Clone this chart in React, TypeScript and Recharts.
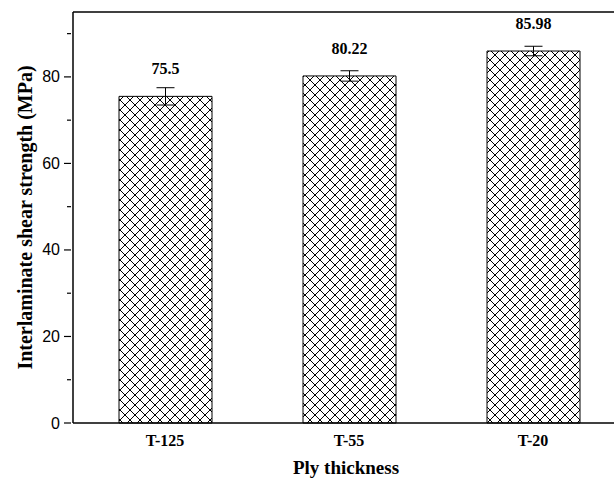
import React from 'react';
import { BarChart, Bar, XAxis, YAxis, ErrorBar, LabelList, ReferenceLine, Label } from 'recharts';

const categories = ['T-125', 'T-55', 'T-20'];
const strengths = [75.5, 80.22, 85.98];
const errors = [2.0, 1.2, 1.1];
const yTicks = [0, 10, 20, 30, 40, 50, 60, 70, 80, 90];

const data = categories.map((name, i) => ({ name, value: strengths[i], err: errors[i] }));

const SERIF = '"Liberation Serif", "Times New Roman", serif';
const SANS = '"Liberation Sans", Arial, sans-serif';

// left axis: long ticks + labels on 20s, short ticks in between
const YTick = (props: any) => {
  const { x, y, payload } = props;
  const major = payload.value % 20 === 0;
  return (
    <g>
      <line x1={x - (major ? 7 : 4)} x2={x} y1={y} y2={y} stroke="#000" strokeWidth={1.2} />
      {major && (
        <text x={x - 11} y={y} dy={5.5} textAnchor="end" fontFamily={SANS} fontSize={16} fill="#000">
          {payload.value}
        </text>
      )}
    </g>
  );
};

const XTick = (props: any) => {
  const { x, y, payload } = props;
  return (
    <text x={x} y={y + 21} textAnchor="middle" fontFamily={SERIF} fontWeight="bold" fontSize={16} fill="#000">
      {payload.value}
    </text>
  );
};

const ValueLabel = (props: any) => {
  const { x, y, width, value } = props;
  return (
    <text x={x + width / 2} y={y - 22} textAnchor="middle" fontFamily={SERIF} fontWeight="bold" fontSize={16} fill="#000">
      {value}
    </text>
  );
};

export default function App() {
  return (
    <div style={{ position: 'fixed', left: 0, top: 0, width: 614, height: 479, overflow: 'hidden', background: '#fff' }}>
      <BarChart width={625} height={479} data={data} margin={{ top: 12, right: 0, bottom: 0, left: 0 }}>
        <defs>
          <pattern id="xhatch" width={10} height={10} patternUnits="userSpaceOnUse">
            <rect width={10} height={10} fill="#fff" />
            <path d="M0,0 L10,10 M10,0 L0,10" stroke="#000" strokeWidth={1} />
          </pattern>
        </defs>
        <XAxis
          dataKey="name"
          height={56}
          axisLine={{ stroke: '#000', strokeWidth: 1.5 }}
          tickLine={false}
          tickSize={0}
          tick={<XTick />}
        >
          <Label
            content={(p: any) => (
              <text
                x={p.viewBox.x + p.viewBox.width / 2 - 3}
                y={p.viewBox.y + 51}
                textAnchor="middle"
                fontFamily={SERIF}
                fontWeight="bold"
                fontSize={19}
                fill="#000"
              >
                Ply thickness
              </text>
            )}
          />
        </XAxis>
        <YAxis
          width={73}
          domain={[0, 95]}
          ticks={yTicks}
          interval={0}
          axisLine={{ stroke: '#000', strokeWidth: 1.5 }}
          tickLine={false}
          tickSize={0}
          tick={<YTick />}
        >
          <Label
            content={(p: any) => {
              const cx = p.viewBox.x + 25;
              const cy = p.viewBox.y + p.viewBox.height / 2;
              return (
                <text
                  x={cx}
                  y={cy}
                  transform={`rotate(-90 ${cx} ${cy})`}
                  textAnchor="middle"
                  dominantBaseline="central"
                  fontFamily={SERIF}
                  fontWeight="bold"
                  fontSize={20}
                  fill="#000"
                >
                  Interlaminate shear strength (MPa)
                </text>
              );
            }}
          />
        </YAxis>
        <ReferenceLine y={95} stroke="#000" strokeWidth={1.5} />
        <Bar dataKey="value" barSize={93} fill="url(#xhatch)" stroke="#000" strokeWidth={1} isAnimationActive={false}>
          <ErrorBar dataKey="err" width={9} stroke="#000" strokeWidth={1} direction="y" />
          <LabelList dataKey="value" content={<ValueLabel />} />
        </Bar>
      </BarChart>
    </div>
  );
}
